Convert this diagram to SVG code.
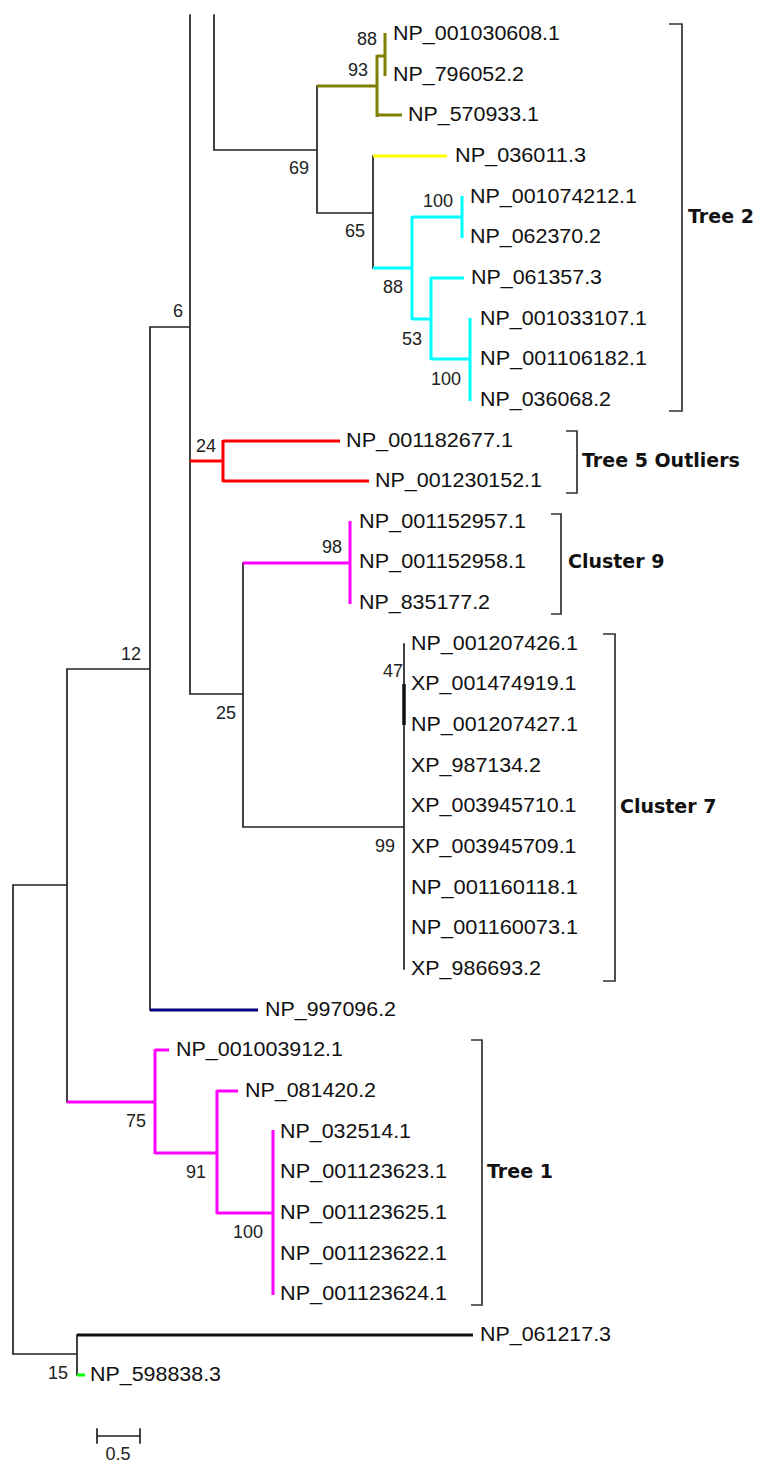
<svg xmlns="http://www.w3.org/2000/svg" width="762" height="1462" viewBox="0 0 762 1462">
<style>
.b{fill:none;stroke:#222;stroke-width:1.7;stroke-linecap:square}
.c{fill:none;stroke-width:3;stroke-linecap:butt}
.lf{font-family:"Liberation Sans",Arial,sans-serif;font-size:20px;fill:#111}
.sv{font-family:"Liberation Sans",Arial,sans-serif;font-size:18px;fill:#222;text-anchor:end}
.gl{font-family:"DejaVu Sans","Liberation Sans",sans-serif;font-size:19px;font-weight:bold;fill:#111}
.br{fill:none;stroke:#333;stroke-width:1.7}
</style>
<rect width="762" height="1462" fill="#fff"/>
<g id="connectors">
<path class="b" d="M190,15V694H243M214,15V150H317M317,86V213H373M373,156V268M150,327H190M150,327V1010M67,669H150M67,669V1102M13,885H67M13,885V1354H77M77,1335V1375M243,563V827H404M404,644V969"/>
<path d="M404,684V725" stroke="#111" stroke-width="3.5" fill="none"/>
<path d="M77,1335H473" stroke="#111" stroke-width="3" fill="none"/>
<path class="c" stroke="#808000" d="M317,86H377M377,55V117M377,115H402M377,56H385M385,33V76"/>
<path class="c" stroke="#FFFF00" d="M373,156H447"/>
<path class="c" stroke="#00FFFF" d="M373,268H412M412,216V320M412,217H462M462,196V238M412,319H431M431,277V360M431,278H464M431,359H470M470,318V401"/>
<path class="c" stroke="#FF0000" d="M190,461H223M223,440V482M223,441H340M223,481H369"/>
<path class="c" stroke="#FF00FF" d="M243,563H350M350,521V604"/>
<path class="c" stroke="#000080" d="M150,1010H258"/>
<path class="c" stroke="#FF00FF" d="M67,1102H155M155,1049V1154M155,1050H169M155,1153H217M217,1090V1214M217,1091H238M217,1213H273M273,1130V1295"/>
<path class="c" stroke="#00FF00" d="M77,1375H85"/>
</g>
<g id="support-values">
<text class="sv" x="377" y="45">88</text>
<text class="sv" x="368" y="76">93</text>
<text class="sv" x="309" y="174">69</text>
<text class="sv" x="453" y="207">100</text>
<text class="sv" x="365" y="237">65</text>
<text class="sv" x="403" y="293">88</text>
<text class="sv" x="422" y="345">53</text>
<text class="sv" x="461" y="385">100</text>
<text class="sv" x="183" y="317">6</text>
<text class="sv" x="216" y="452">24</text>
<text class="sv" x="342" y="553">98</text>
<text class="sv" x="141" y="660">12</text>
<text class="sv" x="236" y="719">25</text>
<text class="sv" x="403" y="677">47</text>
<text class="sv" x="395" y="852">99</text>
<text class="sv" x="146" y="1127">75</text>
<text class="sv" x="206" y="1178">91</text>
<text class="sv" x="263" y="1238">100</text>
<text class="sv" x="68" y="1379">15</text>
</g>
<g id="leaves">
<g id="n1"><text class="lf" x="393" y="40" textLength="167" lengthAdjust="spacingAndGlyphs">NP_001030608.1</text></g>
<g id="n2"><text class="lf" x="393" y="81" textLength="131" lengthAdjust="spacingAndGlyphs">NP_796052.2</text></g>
<g id="n3"><text class="lf" x="408" y="121" textLength="131" lengthAdjust="spacingAndGlyphs">NP_570933.1</text></g>
<g id="n4"><text class="lf" x="455" y="162" textLength="131" lengthAdjust="spacingAndGlyphs">NP_036011.3</text></g>
<g id="n5"><text class="lf" x="470" y="203" textLength="167" lengthAdjust="spacingAndGlyphs">NP_001074212.1</text></g>
<g id="n6"><text class="lf" x="470" y="243" textLength="131" lengthAdjust="spacingAndGlyphs">NP_062370.2</text></g>
<g id="n7"><text class="lf" x="471" y="284" textLength="131" lengthAdjust="spacingAndGlyphs">NP_061357.3</text></g>
<g id="n8"><text class="lf" x="480" y="325" textLength="167" lengthAdjust="spacingAndGlyphs">NP_001033107.1</text></g>
<g id="n9"><text class="lf" x="480" y="365" textLength="167" lengthAdjust="spacingAndGlyphs">NP_001106182.1</text></g>
<g id="n10"><text class="lf" x="480" y="406" textLength="131" lengthAdjust="spacingAndGlyphs">NP_036068.2</text></g>
<g id="n11"><text class="lf" x="346" y="447" textLength="167" lengthAdjust="spacingAndGlyphs">NP_001182677.1</text></g>
<g id="n12"><text class="lf" x="375" y="487" textLength="167" lengthAdjust="spacingAndGlyphs">NP_001230152.1</text></g>
<g id="n13"><text class="lf" x="359" y="528" textLength="167" lengthAdjust="spacingAndGlyphs">NP_001152957.1</text></g>
<g id="n14"><text class="lf" x="359" y="568" textLength="167" lengthAdjust="spacingAndGlyphs">NP_001152958.1</text></g>
<g id="n15"><text class="lf" x="359" y="609" textLength="131" lengthAdjust="spacingAndGlyphs">NP_835177.2</text></g>
<g id="n16"><text class="lf" x="411" y="650" textLength="167" lengthAdjust="spacingAndGlyphs">NP_001207426.1</text></g>
<g id="n17"><text class="lf" x="411" y="690" textLength="165.5" lengthAdjust="spacingAndGlyphs">XP_001474919.1</text></g>
<g id="n18"><text class="lf" x="411" y="731" textLength="167" lengthAdjust="spacingAndGlyphs">NP_001207427.1</text></g>
<g id="n19"><text class="lf" x="411" y="772" textLength="130" lengthAdjust="spacingAndGlyphs">XP_987134.2</text></g>
<g id="n20"><text class="lf" x="411" y="812" textLength="165.5" lengthAdjust="spacingAndGlyphs">XP_003945710.1</text></g>
<g id="n21"><text class="lf" x="411" y="853" textLength="165.5" lengthAdjust="spacingAndGlyphs">XP_003945709.1</text></g>
<g id="n22"><text class="lf" x="411" y="894" textLength="167" lengthAdjust="spacingAndGlyphs">NP_001160118.1</text></g>
<g id="n23"><text class="lf" x="411" y="934" textLength="167" lengthAdjust="spacingAndGlyphs">NP_001160073.1</text></g>
<g id="n24"><text class="lf" x="411" y="975" textLength="130" lengthAdjust="spacingAndGlyphs">XP_986693.2</text></g>
<g id="n25"><text class="lf" x="265" y="1016" textLength="131" lengthAdjust="spacingAndGlyphs">NP_997096.2</text></g>
<g id="n26"><text class="lf" x="176" y="1056" textLength="167" lengthAdjust="spacingAndGlyphs">NP_001003912.1</text></g>
<g id="n27"><text class="lf" x="245" y="1097" textLength="131" lengthAdjust="spacingAndGlyphs">NP_081420.2</text></g>
<g id="n28"><text class="lf" x="280" y="1138" textLength="131" lengthAdjust="spacingAndGlyphs">NP_032514.1</text></g>
<g id="n29"><text class="lf" x="280" y="1178" textLength="167" lengthAdjust="spacingAndGlyphs">NP_001123623.1</text></g>
<g id="n30"><text class="lf" x="280" y="1219" textLength="167" lengthAdjust="spacingAndGlyphs">NP_001123625.1</text></g>
<g id="n31"><text class="lf" x="280" y="1260" textLength="167" lengthAdjust="spacingAndGlyphs">NP_001123622.1</text></g>
<g id="n32"><text class="lf" x="280" y="1300" textLength="167" lengthAdjust="spacingAndGlyphs">NP_001123624.1</text></g>
<g id="n33"><text class="lf" x="480" y="1341" textLength="131" lengthAdjust="spacingAndGlyphs">NP_061217.3</text></g>
<g id="n34"><text class="lf" x="90" y="1381" textLength="131" lengthAdjust="spacingAndGlyphs">NP_598838.3</text></g>
</g>
<g id="groups">
<g id="tree2"><path class="br" d="M669,24H682V411H669"/><text class="gl" x="688" y="223">Tree 2</text></g>
<g id="tree5"><path class="br" d="M566,431H577V493H566"/><text class="gl" x="582" y="467">Tree 5 Outliers</text></g>
<g id="cluster9"><path class="br" d="M551,514H561V614H551"/><text class="gl" x="568" y="568">Cluster 9</text></g>
<g id="cluster7"><path class="br" d="M603,634H615V981H603"/><text class="gl" x="620" y="813">Cluster 7</text></g>
<g id="tree1"><path class="br" d="M471,1040H482V1305H471"/><text class="gl" x="487" y="1178">Tree 1</text></g>
</g>
<g id="scale">
<path class="b" d="M97,1436H140M97,1429V1443M140,1429V1443"/>
<text class="sv" x="118" y="1460" style="text-anchor:middle">0.5</text>
</g>
</svg>
